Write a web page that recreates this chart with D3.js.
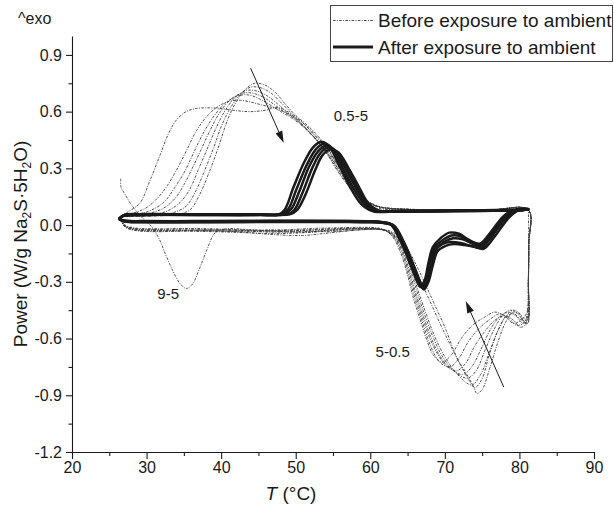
<!DOCTYPE html>
<html>
<head>
<meta charset="utf-8">
<script src="https://cdn.jsdelivr.net/npm/d3@7/dist/d3.min.js"></script>
<style>
  html, body { margin: 0; padding: 0; background: #fff; }
  svg { display: block; font-family: "Liberation Sans", Arial, Helvetica, sans-serif; }
</style>
</head>
<body>
<svg id="chart" width="614" height="511"></svg>
<script>
// ---- axis ticks ----
const xTicks = [20, 30, 40, 50, 60, 70, 80, 90];
const xMinorTicks = [25, 35, 45, 55, 65, 75, 85];
const yTicks = [-1.2, -0.9, -0.6, -0.3, 0.0, 0.3, 0.6, 0.9];
const yMinorTicks = [-1.05, -0.75, -0.45, -0.15, 0.15, 0.45, 0.75];

// ---- before exposure to ambient: heating runs [T, power] ----
const beforeHeat1 = [[26.5,0.03],[27.1,0.0],[28.4,-0.015],[31.4,-0.02],[35.3,-0.02],[39.2,-0.025],[43.1,-0.03],[47,-0.03],[50.9,-0.02],[54.8,-0.015],[58.7,-0.012],[61,-0.015],[61.9,-0.025],[63.05,-0.065],[64,-0.14],[64.9,-0.25],[65.7,-0.375],[66.7,-0.5],[67.6,-0.61],[68.5,-0.69],[69.6,-0.725],[70.8,-0.69],[72.2,-0.6],[73.7,-0.53],[75.2,-0.49],[76.7,-0.46],[78,-0.48],[79.2,-0.52],[80.3,-0.5],[81,-0.46],[81.2,-0.3],[81.25,-0.1],[81.2,0.08]];
const beforeHeat2 = [[26.5,0.03],[27.1,-0.002],[28.4,-0.018],[31.4,-0.022],[35.3,-0.018],[39.2,-0.02],[43.1,-0.028],[47,-0.038],[50.9,-0.03],[54.8,-0.02],[58.7,-0.015],[61,-0.018],[62,-0.028],[63.15,-0.065],[64.1,-0.135],[65,-0.245],[65.85,-0.37],[66.85,-0.495],[67.8,-0.61],[68.7,-0.69],[69.6,-0.735],[70.7,-0.75],[71.8,-0.71],[73.1,-0.62],[74.5,-0.55],[76,-0.5],[77.3,-0.47],[78.5,-0.49],[79.6,-0.53],[80.5,-0.52],[81,-0.48],[81.2,-0.3],[81.25,-0.1],[81.2,0.08]];
const beforeHeat3 = [[26.5,0.03],[27.1,-0.004],[28.4,-0.02],[31.4,-0.025],[35.3,-0.025],[39.2,-0.03],[43.1,-0.035],[47,-0.03],[50.9,-0.025],[54.8,-0.02],[58.7,-0.018],[61,-0.02],[62.1,-0.03],[63.25,-0.065],[64.2,-0.13],[65.1,-0.24],[66,-0.365],[67,-0.49],[68,-0.6],[69,-0.68],[70.2,-0.745],[71.6,-0.77],[72.8,-0.73],[74,-0.64],[75.4,-0.56],[76.8,-0.5],[78,-0.48],[79.1,-0.5],[80.1,-0.54],[80.7,-0.53],[81.1,-0.49],[81.2,-0.3],[81.25,-0.1],[81.2,0.08]];
const beforeHeat4 = [[26.5,0.03],[27.1,-0.005],[28.4,-0.022],[31.4,-0.028],[35.3,-0.03],[39.2,-0.032],[43.1,-0.03],[47,-0.025],[50.9,-0.03],[54.8,-0.035],[58.7,-0.025],[61.2,-0.022],[62.2,-0.032],[63.35,-0.065],[64.3,-0.13],[65.2,-0.235],[66.1,-0.36],[67.15,-0.485],[68.2,-0.6],[69.3,-0.69],[70.8,-0.76],[72.4,-0.79],[73.6,-0.75],[74.8,-0.66],[76,-0.56],[77.2,-0.49],[78.4,-0.46],[79.5,-0.48],[80.5,-0.52],[81.1,-0.5],[81.2,-0.3],[81.25,-0.1],[81.2,0.08]];
const beforeHeat5 = [[26.5,0.03],[27.1,-0.006],[28.4,-0.024],[31.4,-0.03],[35.3,-0.028],[39.2,-0.025],[43.1,-0.025],[47,-0.032],[50.9,-0.04],[54.8,-0.03],[58.7,-0.02],[61.3,-0.022],[62.3,-0.034],[63.45,-0.065],[64.4,-0.125],[65.35,-0.23],[66.25,-0.35],[67.3,-0.475],[68.4,-0.59],[69.6,-0.69],[71.2,-0.77],[73,-0.81],[74.2,-0.77],[75.3,-0.67],[76.5,-0.56],[77.7,-0.48],[78.8,-0.45],[79.8,-0.47],[80.6,-0.51],[81.1,-0.52],[81.2,-0.3],[81.25,-0.1],[81.2,0.08]];
const beforeHeat6 = [[26.5,0.03],[27.1,-0.008],[28.4,-0.026],[31.4,-0.032],[35.3,-0.032],[39.2,-0.035],[43.1,-0.04],[47,-0.045],[50.9,-0.04],[54.8,-0.025],[58.7,-0.02],[61.4,-0.025],[62.4,-0.036],[63.55,-0.065],[64.5,-0.12],[65.5,-0.225],[66.4,-0.345],[67.5,-0.47],[68.6,-0.585],[69.9,-0.69],[71.7,-0.79],[73.6,-0.845],[74.8,-0.79],[75.9,-0.68],[77.1,-0.56],[78.2,-0.48],[79.2,-0.45],[80.1,-0.47],[80.8,-0.5],[81.1,-0.49],[81.2,-0.3],[81.25,-0.1],[81.2,0.08]];
const beforeHeat7 = [[26.5,0.03],[27.1,-0.01],[28.4,-0.028],[31.4,-0.035],[35.3,-0.03],[39.2,-0.03],[43.1,-0.038],[47,-0.05],[50.9,-0.055],[54.8,-0.04],[58.7,-0.025],[62.1,-0.025],[63.1,-0.04],[64,-0.06],[65.5,-0.16],[67,-0.28],[68.5,-0.41],[70,-0.54],[71.6,-0.7],[72.8,-0.78],[73.8,-0.85],[74.3,-0.89],[75,-0.87],[76,-0.76],[77.1,-0.62],[78.2,-0.51],[79.2,-0.46],[80,-0.47],[80.7,-0.52],[81.1,-0.52],[81.2,-0.3],[81.25,-0.1],[81.2,0.08]];
// run that starts hot and shows the extra endotherm near 35 °C
const beforeHeat8 = [[26.54,0.245],[26.58,0.2],[27,0.17],[28.1,0.1],[29.4,0.04],[30.5,0.0],[31.65,-0.07],[32.6,-0.16],[33.5,-0.24],[34.5,-0.31],[35.36,-0.335],[36.2,-0.31],[37.1,-0.23],[38.1,-0.13],[39.2,-0.04],[40.6,-0.02],[44,-0.025],[48.9,-0.035],[53.8,-0.03],[57.7,-0.02],[60.6,-0.02],[62.6,-0.035],[63.8,-0.07],[65.2,-0.16],[66.7,-0.29],[68.2,-0.42],[69.7,-0.55],[71.2,-0.67],[72.5,-0.77],[73.4,-0.83],[74,-0.86],[74.9,-0.82],[76,-0.68],[77.2,-0.55],[78.3,-0.48],[79.3,-0.47],[80.2,-0.5],[81.1,-0.5],[81.2,-0.3],[81.25,-0.1],[81.2,0.08]];

// ---- before exposure to ambient: cooling runs [T, power], ascending T ----
const beforeCool1 = [[26.5,0.045],[27.5,0.07],[29.1,0.116],[30.4,0.23],[31.9,0.38],[32.9,0.48],[34.0,0.556],[35.3,0.6],[36.7,0.617],[38.5,0.62],[40.3,0.615],[42.1,0.605],[44.0,0.6],[46.0,0.608],[47.3,0.622],[48.5,0.61],[49.9,0.57],[51.4,0.51],[52.8,0.45],[54.3,0.37],[55.7,0.28],[57.2,0.2],[58.7,0.14],[60.1,0.1],[61.6,0.085],[65.5,0.08],[72.3,0.078],[78.2,0.08],[81.2,0.08]];
const beforeCool2 = [[26.5,0.045],[28.0,0.06],[29.9,0.09],[31.4,0.14],[32.8,0.21],[34.0,0.29],[35.3,0.39],[36.7,0.5],[38.2,0.58],[39.7,0.63],[41.1,0.655],[42.6,0.66],[44.0,0.65],[45.5,0.635],[47.0,0.62],[48.4,0.6],[49.9,0.57],[51.4,0.525],[52.8,0.47],[54.3,0.4],[55.7,0.315],[57.2,0.23],[58.7,0.16],[60.1,0.115],[61.6,0.092],[64.5,0.085],[70.4,0.08],[76.2,0.08],[81.2,0.08]];
const beforeCool3 = [[26.5,0.045],[28.4,0.055],[30.4,0.075],[32.3,0.12],[33.8,0.2],[35.2,0.29],[36.4,0.39],[37.8,0.5],[39.3,0.59],[40.7,0.65],[42.2,0.683],[43.7,0.688],[45.1,0.668],[46.6,0.635],[48.0,0.6],[49.5,0.565],[51.0,0.52],[52.4,0.465],[53.9,0.4],[55.4,0.32],[56.8,0.235],[58.3,0.165],[59.8,0.12],[61.3,0.095],[64.0,0.085],[70.4,0.08],[76.2,0.08],[81.2,0.08]];
const beforeCool4 = [[26.5,0.045],[28.4,0.05],[30.4,0.062],[32.3,0.09],[33.8,0.14],[35.1,0.22],[36.0,0.29],[37.2,0.39],[38.5,0.5],[39.9,0.6],[41.3,0.665],[42.8,0.697],[44.2,0.698],[45.7,0.675],[47.2,0.635],[48.6,0.595],[50.1,0.555],[51.6,0.5],[53.0,0.44],[54.5,0.36],[55.9,0.275],[57.4,0.195],[58.9,0.14],[60.4,0.105],[63.1,0.088],[70.4,0.08],[76.2,0.08],[81.2,0.08]];
const beforeCool5 = [[26.5,0.045],[28.4,0.048],[30.9,0.055],[32.8,0.075],[34.5,0.12],[35.8,0.19],[36.9,0.29],[38.1,0.4],[39.4,0.52],[40.6,0.61],[42.0,0.68],[43.4,0.712],[44.7,0.71],[46.1,0.685],[47.6,0.64],[49.0,0.59],[50.5,0.545],[51.9,0.49],[53.4,0.425],[54.9,0.345],[56.3,0.26],[57.8,0.185],[59.3,0.13],[60.8,0.1],[63.5,0.086],[70.4,0.08],[76.2,0.08],[81.2,0.08]];
const beforeCool6 = [[26.5,0.045],[28.4,0.046],[31.4,0.05],[33.3,0.062],[35.3,0.1],[36.6,0.18],[37.8,0.29],[39.0,0.41],[40.1,0.53],[41.4,0.63],[42.8,0.7],[44.0,0.73],[45.4,0.725],[46.8,0.695],[48.1,0.645],[49.5,0.59],[51.0,0.54],[52.4,0.48],[53.9,0.41],[55.4,0.33],[56.8,0.245],[58.3,0.17],[59.8,0.12],[61.3,0.095],[64.0,0.085],[70.4,0.08],[76.2,0.08],[81.2,0.08]];
const beforeCool7 = [[26.5,0.045],[28.4,0.045],[31.4,0.048],[33.8,0.055],[35.8,0.08],[37.1,0.16],[38.5,0.29],[39.7,0.42],[40.8,0.55],[42.0,0.65],[43.3,0.72],[44.5,0.75],[45.9,0.74],[47.3,0.7],[48.6,0.64],[50.0,0.58],[51.5,0.53],[52.9,0.475],[54.4,0.4],[55.8,0.31],[57.3,0.22],[58.8,0.155],[60.2,0.115],[61.8,0.092],[64.5,0.084],[70.4,0.08],[76.2,0.08],[81.2,0.08]];

// ---- after exposure to ambient: heating (ascending T) and cooling (descending T) ----
const afterHeat1 = [[26.3,0.035],[27.0,0.024],[29.4,0.02],[36.2,0.02],[43.1,0.021],[50.9,0.022],[56.7,0.021],[60.1,0.02],[61.5,0.016],[62.7,0.004],[64.0,-0.08],[65.3,-0.2],[66.2,-0.29],[66.7,-0.326],[67.3,-0.29],[67.8,-0.2],[68.4,-0.115],[69.4,-0.07],[70.6,-0.04],[71.9,-0.046],[73.3,-0.08],[74.7,-0.098],[75.9,-0.05],[77.1,0.012],[78.2,0.058],[79.6,0.083],[81.2,0.085]];
const afterCool1 = [[81.2,0.085],[80.4,0.078],[75.2,0.075],[68.4,0.072],[62.6,0.07],[60.6,0.071],[59.8,0.082],[58.7,0.115],[57.3,0.2],[55.9,0.31],[54.4,0.42],[53.3,0.44],[52.3,0.41],[51.1,0.33],[49.7,0.2],[48.5,0.08],[47.7,0.056],[45.0,0.053],[37.2,0.053],[29.4,0.054],[27.0,0.05],[26.3,0.035]];
const afterHeat2 = [[26.3,0.033],[27.0,0.022],[29.4,0.018],[36.2,0.018],[43.1,0.019],[50.9,0.02],[56.7,0.02],[60.1,0.018],[61.6,0.014],[62.9,0.0],[64.2,-0.085],[65.5,-0.21],[66.4,-0.3],[66.9,-0.33],[67.4,-0.29],[68.0,-0.2],[68.6,-0.12],[69.7,-0.08],[70.9,-0.055],[72.2,-0.06],[73.6,-0.09],[74.9,-0.105],[76.1,-0.055],[77.3,0.008],[78.4,0.055],[79.7,0.082],[81.2,0.085]];
const afterCool2 = [[81.2,0.085],[80.4,0.08],[75.2,0.077],[68.4,0.074],[62.6,0.072],[60.8,0.073],[60.0,0.085],[59.0,0.12],[57.6,0.205],[56.2,0.31],[54.8,0.41],[53.7,0.43],[52.7,0.4],[51.5,0.32],[50.1,0.19],[49.0,0.085],[48.1,0.058],[45.0,0.055],[37.2,0.055],[29.4,0.056],[27.0,0.052],[26.3,0.033]];
const afterHeat3 = [[26.3,0.032],[27.0,0.02],[29.4,0.016],[36.2,0.016],[43.1,0.017],[50.9,0.018],[56.7,0.018],[60.1,0.016],[61.7,0.012],[63.1,-0.003],[64.4,-0.09],[65.7,-0.215],[66.6,-0.305],[67.1,-0.335],[67.6,-0.295],[68.2,-0.205],[68.8,-0.13],[69.9,-0.09],[71.1,-0.07],[72.4,-0.075],[73.8,-0.1],[75.1,-0.11],[76.3,-0.06],[77.5,0.005],[78.6,0.052],[79.8,0.08],[81.2,0.083]];
const afterCool3 = [[81.2,0.083],[80.4,0.082],[75.2,0.079],[68.4,0.076],[62.6,0.074],[61.0,0.075],[60.2,0.088],[59.2,0.125],[57.9,0.21],[56.5,0.31],[55.1,0.4],[54.0,0.42],[53.0,0.39],[51.8,0.31],[50.5,0.18],[49.4,0.085],[48.5,0.06],[45.0,0.057],[37.2,0.057],[29.4,0.058],[27.0,0.054],[26.3,0.032]];
const afterHeat4 = [[26.3,0.034],[27.0,0.023],[29.4,0.021],[36.2,0.021],[43.1,0.022],[50.9,0.023],[56.7,0.022],[60.1,0.02],[61.6,0.015],[63.0,0.001],[64.3,-0.08],[65.6,-0.2],[66.5,-0.29],[67.0,-0.32],[67.5,-0.28],[68.1,-0.2],[68.7,-0.135],[69.7,-0.1],[70.8,-0.09],[72.1,-0.095],[73.5,-0.11],[74.9,-0.12],[76.1,-0.065],[77.3,0.0],[78.4,0.05],[79.7,0.08],[81.2,0.084]];
const afterCool4 = [[81.2,0.084],[80.4,0.079],[75.2,0.076],[68.4,0.073],[62.6,0.071],[61.2,0.072],[60.4,0.085],[59.4,0.12],[58.2,0.2],[56.8,0.3],[55.4,0.39],[54.3,0.41],[53.3,0.38],[52.2,0.3],[50.9,0.17],[49.8,0.08],[48.9,0.058],[45.0,0.054],[37.2,0.054],[29.4,0.055],[27.0,0.051],[26.3,0.034]];
const afterHeat5 = [[26.3,0.031],[27.0,0.019],[29.4,0.015],[36.2,0.015],[43.1,0.016],[50.9,0.017],[56.7,0.017],[60.1,0.015],[61.8,0.011],[63.2,-0.004],[64.5,-0.09],[65.9,-0.22],[66.8,-0.31],[67.2,-0.34],[67.8,-0.3],[68.4,-0.21],[69.0,-0.14],[70.1,-0.11],[71.2,-0.1],[72.6,-0.105],[74.0,-0.115],[75.2,-0.125],[76.5,-0.07],[77.7,-0.005],[78.8,0.048],[79.9,0.078],[81.2,0.082]];
const afterCool5 = [[81.2,0.082],[80.4,0.081],[75.2,0.078],[68.4,0.075],[62.6,0.073],[61.4,0.074],[60.6,0.087],[59.6,0.122],[58.5,0.2],[57.1,0.3],[55.7,0.385],[54.6,0.4],[53.6,0.37],[52.6,0.29],[51.3,0.16],[50.2,0.08],[49.3,0.058],[45.0,0.056],[37.2,0.056],[29.4,0.057],[27.0,0.053],[26.3,0.031]];

// ---- annotations: [T, power] ----
const rateLabels = [
  { text: "0.5-5", at: [57.4, 0.58] },
  { text: "5-0.5", at: [63.0, -0.67] },
  { text: "9-5",   at: [32.9, -0.36] }
];
const rateArrows = [
  { from: [43.95, 0.83], to: [48.4, 0.434] },
  { from: [77.9, -0.857], to: [72.8, -0.402] }
];

// ---- layout ----
const svg = d3.select("#chart");
const x = d3.scaleLinear().domain([20, 90]).range([72, 594]);
const y = d3.scaleLinear().domain([-1.2, 1.0]).range([452, 36]);
const ink = "#1a1a1a";

const line = d3.line()
  .x(d => x(d[0]))
  .y(d => y(d[1]))
  .curve(d3.curveCatmullRom.alpha(0.5));

// full loops: heating followed by cooling
const beforeLoops = [
  beforeHeat1.concat(beforeCool1.slice().reverse().slice(1)),
  beforeHeat2.concat(beforeCool2.slice().reverse().slice(1)),
  beforeHeat3.concat(beforeCool3.slice().reverse().slice(1)),
  beforeHeat4.concat(beforeCool4.slice().reverse().slice(1)),
  beforeHeat5.concat(beforeCool5.slice().reverse().slice(1)),
  beforeHeat6.concat(beforeCool6.slice().reverse().slice(1)),
  beforeHeat7.concat(beforeCool7.slice().reverse().slice(1)),
  beforeHeat8
];
const afterLoops = [
  afterHeat1.concat(afterCool1.slice(1)),
  afterHeat2.concat(afterCool2.slice(1)),
  afterHeat3.concat(afterCool3.slice(1)),
  afterHeat4.concat(afterCool4.slice(1)),
  afterHeat5.concat(afterCool5.slice(1))
];

const dashBefore = "2.6,1.3,1,1.3";
const greyBefore = "#3c3c3c";

svg.append("g").selectAll("path").data(beforeLoops).join("path")
  .attr("d", line)
  .attr("fill", "none")
  .attr("stroke", greyBefore)
  .attr("stroke-width", 0.9)
  .attr("stroke-dasharray", dashBefore);

svg.append("g").selectAll("path").data(afterLoops).join("path")
  .attr("d", line)
  .attr("fill", "none")
  .attr("stroke", ink)
  .attr("stroke-width", 2.5)
  .attr("stroke-linejoin", "round");

// ---- axes ----
const fmt = d => d.toFixed(1);
svg.append("g").attr("transform", `translate(0,${y(-1.2)})`)
  .call(d3.axisBottom(x).tickValues(xTicks).tickSize(7).tickSizeOuter(0).tickPadding(3));
svg.append("g").attr("transform", `translate(0,${y(-1.2)})`)
  .call(d3.axisBottom(x).tickValues(xMinorTicks).tickSize(4).tickFormat(""))
  .select(".domain").remove();
svg.append("g").attr("transform", `translate(${x(20)},0)`)
  .call(d3.axisLeft(y).tickValues(yTicks).tickFormat(fmt).tickSize(6).tickSizeOuter(0).tickPadding(4));
svg.append("g").attr("transform", `translate(${x(20)},0)`)
  .call(d3.axisLeft(y).tickValues(yMinorTicks).tickSize(3.5).tickFormat(""))
  .select(".domain").remove();

svg.selectAll(".tick text")
  .attr("font-family", "'Liberation Sans', Arial, sans-serif")
  .attr("font-size", 16)
  .attr("fill", ink);
svg.selectAll(".domain, .tick line").attr("stroke", ink).attr("stroke-width", 1.1);

// axis titles
const yTitle = svg.append("text")
  .attr("transform", `translate(27,${(y(-1.2) + y(1.0)) / 2}) rotate(-90)`)
  .attr("text-anchor", "middle")
  .attr("font-size", 19)
  .attr("fill", ink);
yTitle.append("tspan").text("Power (W/g Na");
yTitle.append("tspan").attr("font-size", 12).attr("dy", 4).text("2");
yTitle.append("tspan").attr("dy", -4).text("S·5H");
yTitle.append("tspan").attr("font-size", 12).attr("dy", 4).text("2");
yTitle.append("tspan").attr("dy", -4).text("O)");

const xTitle = svg.append("text")
  .attr("x", 291)
  .attr("y", 500)
  .attr("text-anchor", "middle")
  .attr("font-size", 19)
  .attr("fill", ink);
xTitle.append("tspan").attr("font-style", "italic").text("T");
xTitle.append("tspan").text(" (°C)");

svg.append("text")
  .attr("x", 18).attr("y", 24)
  .attr("font-size", 16)
  .attr("fill", ink)
  .text("^exo");

// ---- rate annotations ----
svg.append("g").selectAll("text").data(rateLabels).join("text")
  .attr("x", d => x(d.at[0]))
  .attr("y", d => y(d.at[1]))
  .attr("text-anchor", "middle")
  .attr("dominant-baseline", "central")
  .attr("font-size", 15)
  .attr("fill", ink)
  .text(d => d.text);

const arrowG = svg.append("g");
rateArrows.forEach(a => {
  const x0 = x(a.from[0]), y0 = y(a.from[1]);
  const x1 = x(a.to[0]), y1 = y(a.to[1]);
  const ang = Math.atan2(y1 - y0, x1 - x0);
  const len = 12, half = 3.6;
  const bx = x1 - len * Math.cos(ang), by = y1 - len * Math.sin(ang);
  arrowG.append("line")
    .attr("x1", x0).attr("y1", y0).attr("x2", bx).attr("y2", by)
    .attr("stroke", ink).attr("stroke-width", 1);
  arrowG.append("path")
    .attr("d", `M${x1},${y1}L${bx + half * Math.sin(ang)},${by - half * Math.cos(ang)}L${bx - half * Math.sin(ang)},${by + half * Math.cos(ang)}Z`)
    .attr("fill", ink);
});

// ---- legend ----
const legend = svg.append("g");
legend.append("rect")
  .attr("x", 330.5).attr("y", 5.5).attr("width", 282).attr("height", 56)
  .attr("fill", "#fff").attr("stroke", "#444").attr("stroke-width", 1);
const legendItems = [
  { label: "Before exposure to ambient", dash: dashBefore, width: 0.9, color: greyBefore },
  { label: "After exposure to ambient", dash: null, width: 3, color: ink }
];
legendItems.forEach((d, i) => {
  const cy = 20.5 + i * 26.5;
  legend.append("line")
    .attr("x1", 333).attr("x2", 373).attr("y1", cy).attr("y2", cy)
    .attr("stroke", d.color).attr("stroke-width", d.width)
    .attr("stroke-dasharray", d.dash);
  legend.append("text")
    .attr("x", 378).attr("y", cy)
    .attr("dominant-baseline", "central")
    .attr("font-size", 19)
    .attr("fill", ink)
    .text(d.label);
});
</script>
</body>
</html>
